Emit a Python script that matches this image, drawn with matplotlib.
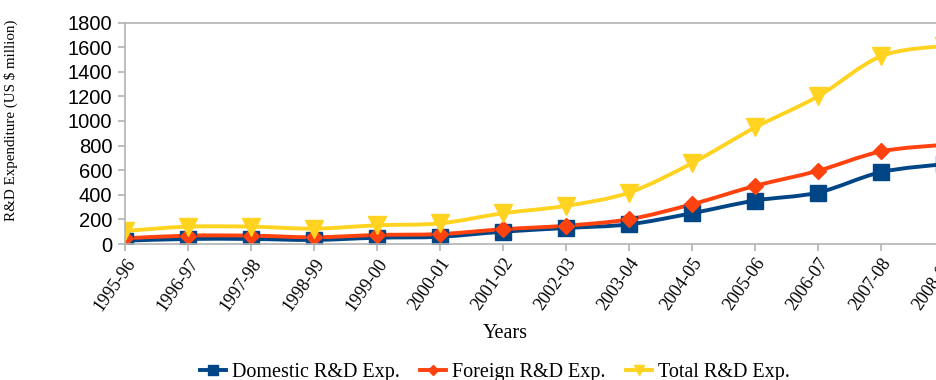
import numpy as np
import matplotlib
matplotlib.use('Agg')
import matplotlib.pyplot as plt
from matplotlib.path import Path
from matplotlib.patches import PathPatch
from matplotlib.lines import Line2D

# Data (US $ million)
years = ['1995-96', '1996-97', '1997-98', '1998-99', '1999-00', '2000-01',
         '2001-02', '2002-03', '2003-04', '2004-05', '2005-06', '2006-07',
         '2007-08', '2008-09']
domestic = [27, 41, 41, 33, 51, 59, 100, 130, 160, 250, 353, 418, 584, 649]
foreign = [46, 68, 68, 55, 73, 81, 120, 149, 201, 323, 472, 595, 752, 806]
total = [106, 141, 141, 125, 152, 168, 250, 310, 418, 657, 947, 1200, 1526, 1610]

yticks = list(range(0, 2000, 200))

colBlue = '#004586'
colRed = '#ff420e'
colYellow = '#ffd320'
colAxis = '#b3b3b3'

serif = ['Liberation Serif', 'DejaVu Serif']
sans = ['Liberation Sans', 'DejaVu Sans']


def smooth_path(xs, ys):
    # Catmull-Rom segments as cubic Bezier pieces
    p = np.column_stack([xs, ys]).astype(float)
    n = len(p)
    verts = [p[0]]
    codes = [Path.MOVETO]
    for i in range(n - 1):
        p0 = p[i - 1] if i > 0 else p[i]
        p1 = p[i]
        p2 = p[i + 1]
        p3 = p[i + 2] if i + 2 < n else p[i + 1]
        c1 = p1 + (p2 - p0) / 6.0
        c2 = p2 - (p3 - p1) / 6.0
        verts += [c1, c2, p2]
        codes += [Path.CURVE4] * 3
    return Path(verts, codes)


fig = plt.figure(figsize=(9.37, 3.8), dpi=100)
ax = fig.add_axes([125 / 937, 136 / 380, 819 / 937, 221.5 / 380])

x = np.arange(len(years))
series = [
    (domestic, colBlue, 's', 11, 'Domestic R&D Exp.'),
    (foreign, colRed, 'D', 8.5, 'Foreign R&D Exp.'),
    (total, colYellow, 'v', 12.5, 'Total R&D Exp.'),
]

handles = []
for vals, col, mk, ms, lab in series:
    patch = PathPatch(smooth_path(x, vals), fill=False, edgecolor=col,
                      lw=2.8, capstyle='round', joinstyle='round',
                      transform=ax.transData)
    ax.add_patch(patch)
    ax.plot(x, vals, ls='none', marker=mk, ms=ms, color=col, mec=col)
    handles.append(Line2D([], [], color=col, lw=2.8, marker=mk,
                          ms=ms * 0.6, label=lab))

ax.set_xlim(0, 13)
ax.set_ylim(0, 1800)
ax.set_xticks(x)
ax.set_xticklabels(years, rotation=55, ha='right', va='top',
                   rotation_mode='anchor', family=serif, fontsize=13)
ax.set_yticks(yticks)
ax.set_yticklabels([str(v) for v in yticks], family=sans, fontsize=14.5)

for side in ['top', 'bottom', 'left', 'right']:
    ax.spines[side].set_color(colAxis)
    ax.spines[side].set_linewidth(1.2)
ax.tick_params(axis='both', color=colAxis, length=5, width=1.2,
               direction='out')
ax.tick_params(axis='x', pad=3)
ax.tick_params(axis='y', pad=4)

ax.set_xlabel('Years', family=serif, fontsize=14.5)
ax.xaxis.set_label_coords((505 - 125) / 819, -(324 - 244) / 221.5)
ax.set_ylabel('R&D Expenditure (US $ million)', family=serif, fontsize=10.8)
ax.yaxis.set_label_coords(-(125 - 18) / 819, (244 - 120) / 221.5)

fig.legend(handles=handles, loc='center', ncol=3,
           bbox_to_anchor=(495 / 937, 1 - 372 / 380), frameon=False,
           prop={'family': serif, 'size': 14.5}, handlelength=1.3,
           handletextpad=0.3, columnspacing=1.0)

fig.savefig('out.png', dpi=100)
